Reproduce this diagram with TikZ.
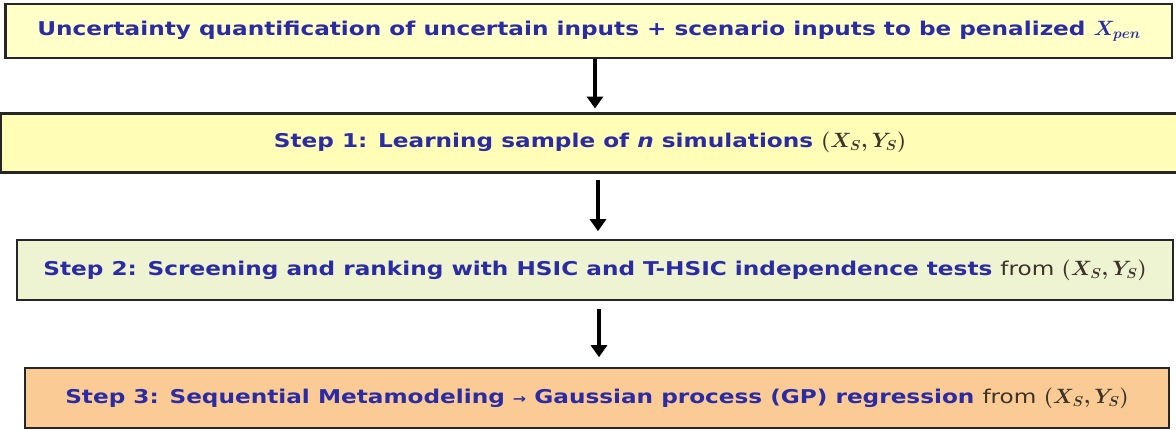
\documentclass[tikz,border=0pt]{standalone}
\usepackage{amsmath}
\usepackage{fontspec}
\setmainfont{DejaVu Sans}[FakeStretch=1.22]
\usetikzlibrary{arrows.meta}
\definecolor{groc}{HTML}{FFFFC8}
\definecolor{grocfort}{HTML}{FFFDB6}
\definecolor{verd}{HTML}{EEF3D2}
\definecolor{taronja}{HTML}{FBCB96}
\definecolor{blau}{HTML}{2B2BA3}
\definecolor{contorn}{HTML}{262626}
\definecolor{gris}{HTML}{3C3428}
\tikzset{
  caixa/.style={draw=contorn, line width=1.6pt, inner sep=0pt, text=blau,
    font=\bfseries\boldmath\fontsize{19}{22}\selectfont},
  fletxa/.style={-{Triangle[width=16pt,length=12pt]}, draw=black, line width=3.2pt},
}
\newcommand{\des}[1]{{\mdseries\color{gris}#1}}
\newcommand{\mat}[1]{{\fontsize{20.5}{22}\selectfont$#1$}}
\newcommand{\fletxeta}{{\fontsize{13}{15}\selectfont →}}

\begin{document}
\begin{tikzpicture}[x=1pt,y=-1pt]
  \useasboundingbox (0,0) rectangle (1176,429);

  % Caixes de les etapes, de dalt a baix.
  \node[caixa, fill=groc, minimum width=1166pt, minimum height=54pt]
    (incert) at (589,31)
    {Uncertainty quantification of uncertain inputs + scenario inputs to be penalized \mat{X_{pen}}};
  \draw[contorn, line width=3pt] (incert.north west) -- (incert.south west);
  \node[caixa, fill=grocfort, line width=3pt, minimum width=1180pt, minimum height=59pt]
    (pas1) at (590,142.5)
    {Step 1: Learning sample of \textit{n} simulations \des{\mat{(X_S,Y_S)}}};
  \node[caixa, fill=verd, minimum width=1156pt, minimum height=60pt]
    (pas2) at (595,270)
    {Step 2: Screening and ranking with HSIC and T-HSIC independence tests \des{from \mat{(X_S,Y_S)}}};
  \node[caixa, fill=taronja, minimum width=1144pt, minimum height=60pt]
    (pas3) at (597,398)
    {Step 3: Sequential Metamodeling \fletxeta{} Gaussian process (GP) regression \des{from \mat{(X_S,Y_S)}}};

  % Fletxes entre etapes.
  \coordinate (eix1) at (595,0);
  \coordinate (eix2) at (598,0);
  \coordinate (eix3) at (599,0);
  \draw[fletxa] (incert.south -| eix1) -- ([yshift=3pt]pas1.north -| eix1);
  \draw[fletxa] ([yshift=-6pt]pas1.south -| eix2) -- ([yshift=8pt]pas2.north -| eix2);
  \draw[fletxa] ([yshift=-8pt]pas2.south -| eix3) -- ([yshift=10pt]pas3.north -| eix3);
\end{tikzpicture}
\end{document}
